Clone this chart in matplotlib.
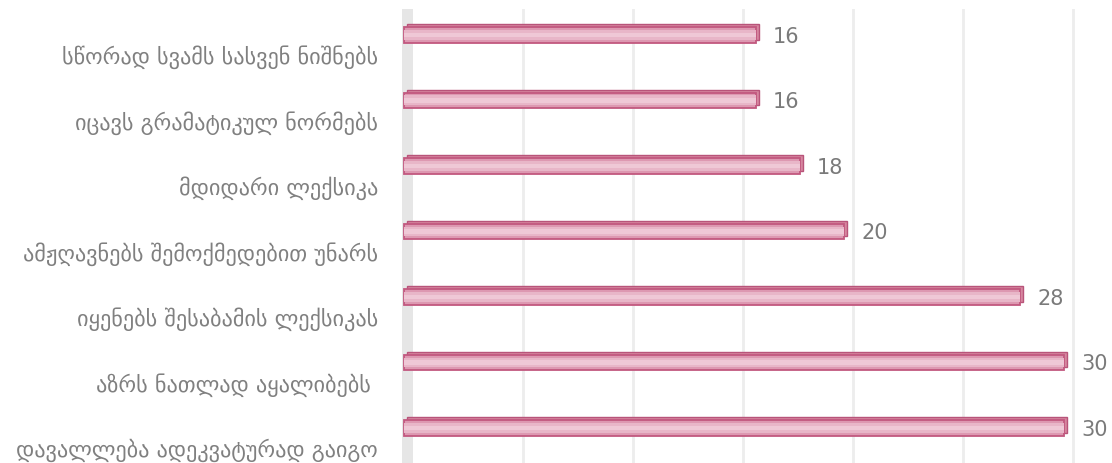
import matplotlib
matplotlib.use("Agg")
import matplotlib.pyplot as plt
import matplotlib.transforms as mtransforms

categories = [
    "სწორად სვამს სასვენ ნიშნებს",
    "იცავს გრამატიკულ ნორმებს",
    "მდიდარი ლექსიკა",
    "ამჟღავნებს შემოქმედებით უნარს",
    "იყენებს შესაბამის ლექსიკას",
    "აზრს ნათლად აყალიბებს ",
    "დავალლება ადეკვატურად გაიგო",
]
values = [16, 16, 18, 20, 28, 30, 30]
x_ticks = [0, 5, 10, 15, 20, 25, 30]

DPI = 100
fig = plt.figure(figsize=(11.12, 4.64), dpi=DPI)
W, H = 1112, 464
ax = fig.add_axes([400 / W, 0, 712 / W, 454 / H])

ax.set_xlim(-0.6, 31.77)
ax.set_ylim(6.55, -0.38)

def off(dx, dy):
    return ax.transData + mtransforms.ScaledTranslation(dx / DPI, dy / DPI, fig.dpi_scale_trans)

pos = list(range(len(categories)))

# back wall gridlines
for t in x_ticks[1:]:
    ax.axvline(t, color="#ededed", lw=2.0, zorder=0)
# side wall
ax.axvspan(-0.5, 0, color="#e6e6e6", zorder=0.5, lw=0)

# 3D bars: depth face, front face, inner bands
ax.barh(pos, values, height=0.24, color="#d6869f", edgecolor="#b8547a",
        linewidth=1.0, transform=off(-6, 2), zorder=2)
ax.barh(pos, values, height=0.24, color="#dd98b1", edgecolor="#c2587f",
        linewidth=1.3, transform=off(-9, -1), zorder=3)
ax.barh(pos, values, height=0.15, color="#e8b6c8", linewidth=0,
        transform=off(-9, -1), zorder=4)
ax.barh(pos, values, height=0.07, color="#efc8d6", linewidth=0,
        transform=off(-9, -1), zorder=5)

for i, v in zip(pos, values):
    ax.text(v, i, str(v), transform=off(8, -2), ha="left", va="center",
            fontsize=15, color="#7a7a7a", family="DejaVu Sans", zorder=6)

ax.set_yticks(pos)
ax.set_yticklabels(categories, fontsize=16, color="#808080", family="DejaVu Sans")
ax.tick_params(axis="y", length=0, pad=16)
ax.set_xticks([])
for lab in ax.get_yticklabels():
    lab.set_transform(lab.get_transform() +
                      mtransforms.ScaledTranslation(0, -20 / DPI, fig.dpi_scale_trans))
for s in ax.spines.values():
    s.set_visible(False)
ax.patch.set_alpha(0)

fig.savefig("out.png", dpi=DPI)
